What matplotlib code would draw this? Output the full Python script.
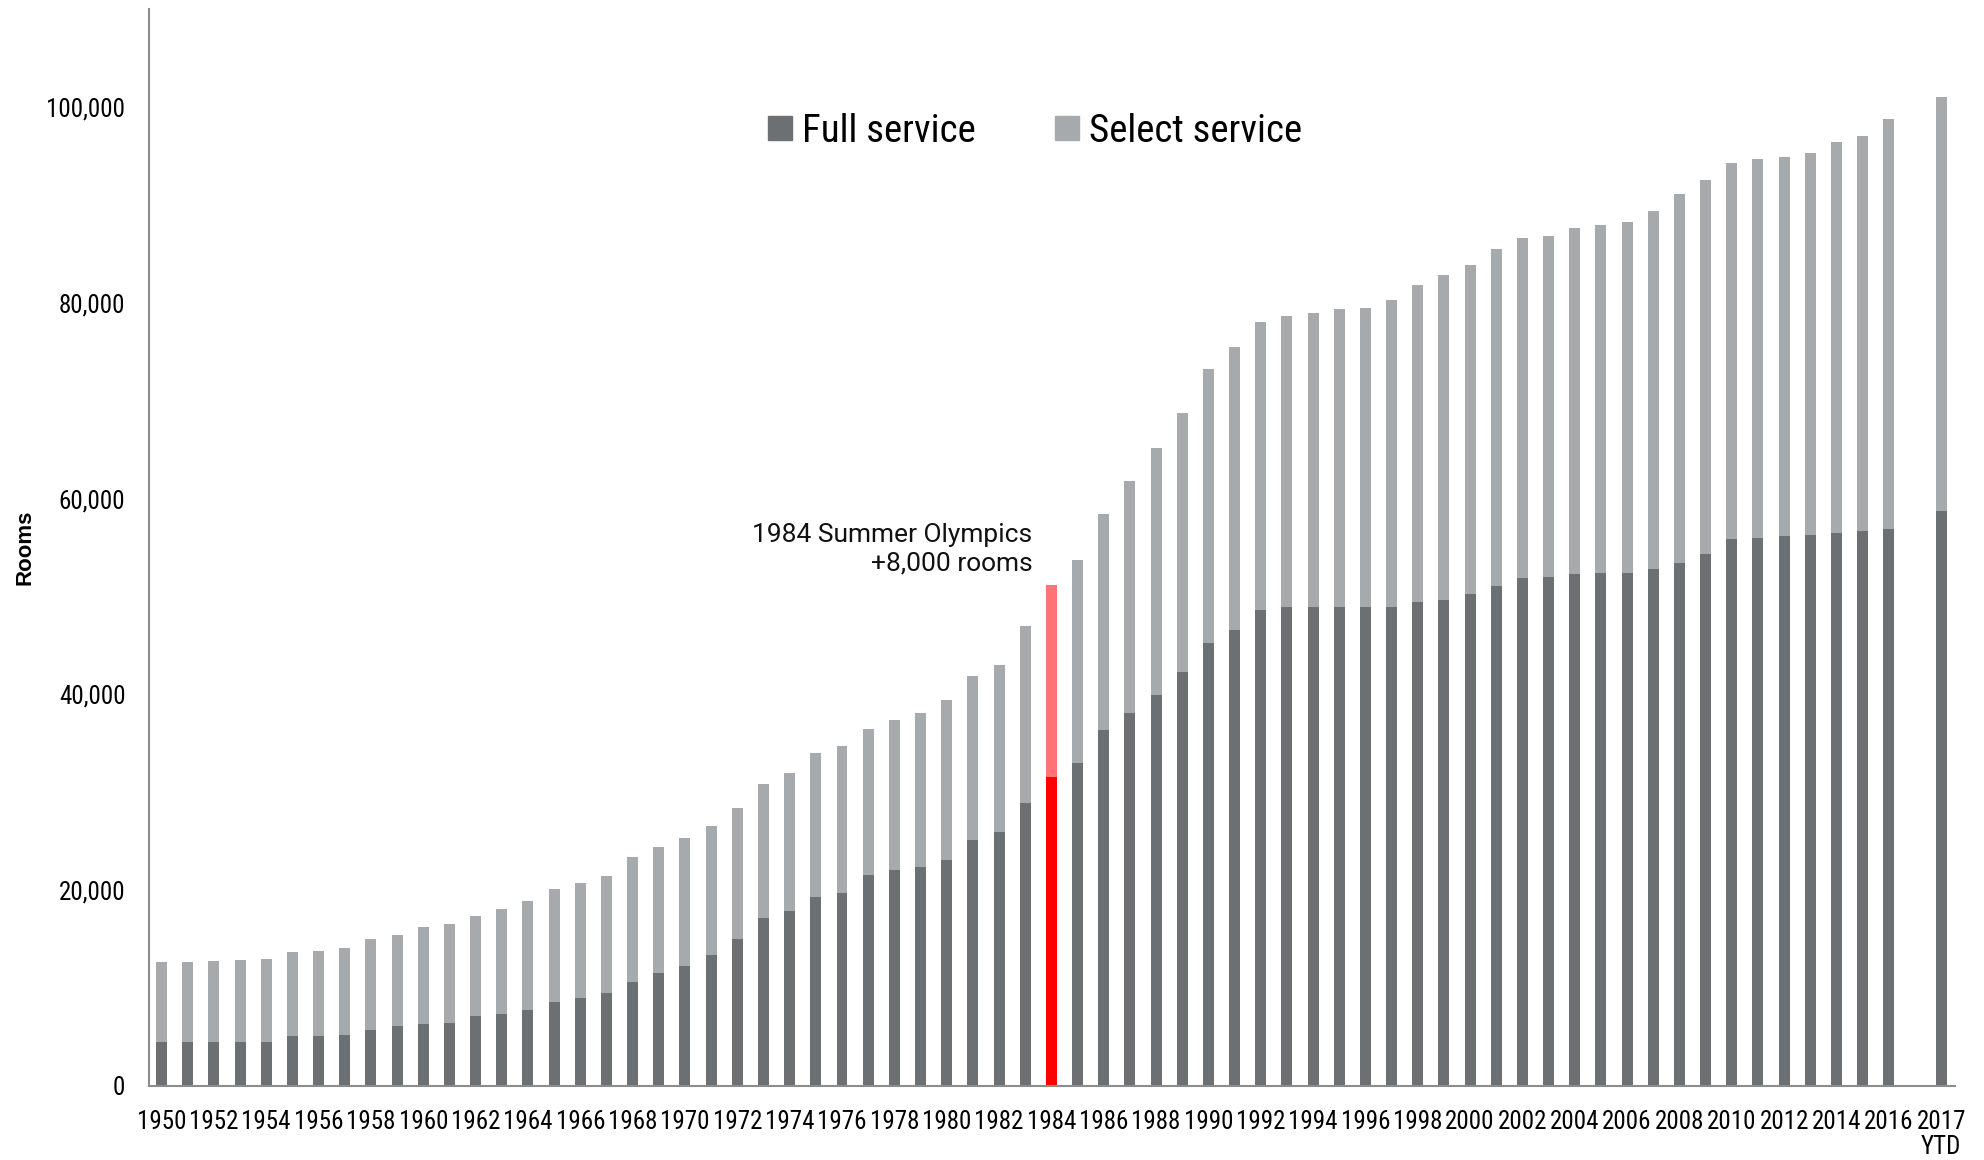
import matplotlib
matplotlib.use("Agg")
import matplotlib.pyplot as plt
from matplotlib import font_manager
from matplotlib.patches import Patch

# rooms by year
YEARS = [str(y) for y in range(1950, 2017)] + ["2017\nYTD"]

FULL_SERVICE = [
  4450, 4450, 4450, 4450, 4450, 5150, 5150, 5200, 5750, 6150,
  6350, 6450, 7150, 7350, 7800, 8600, 9000, 9500, 10650, 11550,
  12300, 13400, 15050, 17150, 17850, 19350, 19700, 21600, 22050, 22400,
  23100, 25150, 25950, 28950, 31600, 32950, 36400, 38150, 39900, 42300,
  45300, 46600, 48650, 48900, 48900, 48900, 48900, 48900, 49400, 49650,
  50250, 51100, 51900, 51950, 52300, 52400, 52400, 52850, 53450, 54300,
  55850, 55950, 56150, 56300, 56500, 56700, 56950, 58750]

SELECT_SERVICE = [
  8250, 8250, 8350, 8450, 8550, 8550, 8650, 8850, 9250, 9300,
  9850, 10150, 10250, 10750, 11150, 11500, 11700, 11950, 12700, 12850,
  13000, 13200, 13400, 13700, 14150, 14650, 15000, 14900, 15350, 15750,
  16300, 16750, 17050, 18050, 19550, 20800, 22050, 23650, 25300, 26500,
  28000, 28900, 29450, 29750, 30050, 30450, 30600, 31350, 32400, 33250,
  33600, 34400, 34750, 34900, 35400, 35550, 35900, 36500, 37650, 38300,
  38450, 38800, 38750, 39000, 39900, 40400, 41850, 42250]

HIGHLIGHT = "1984"

DARK = "#6d7073"
LIGHT = "#a7aaad"
RED = "#ff0000"
LIGHT_RED = "#ff7377"
AXIS = "#8c8c8c"

names = set(f.name for f in font_manager.fontManager.ttflist)
NARROW = ["Liberation Sans", "DejaVu Sans"]
for cand in ["Liberation Sans Narrow", "Roboto Condensed", "Open Sans Condensed"]:
  if cand in names:
    NARROW = [cand, "DejaVu Sans"]
    break
narrow_ok = NARROW[0] != "Liberation Sans"

# one empty slot between 2016 and 2017 YTD
xpos = list(range(len(YEARS) - 1)) + [len(YEARS)]

full_colors = [RED if y == HIGHLIGHT else DARK for y in YEARS]
sel_colors = [LIGHT_RED if y == HIGHLIGHT else LIGHT for y in YEARS]

fig = plt.figure(figsize=(19.84, 11.6), dpi=100)
ax = fig.add_axes([0.0751, 0.0638, 0.9103, 0.9282])

width = 0.42
ax.bar(xpos, FULL_SERVICE, width, color=full_colors, linewidth=0)
ax.bar(xpos, SELECT_SERVICE, width, bottom=FULL_SERVICE, color=sel_colors, linewidth=0)

ax.set_xlim(-0.48, xpos[-1] + 0.53)
ax.set_ylim(0, 110000)

ax.set_yticks([0, 20000, 40000, 60000, 80000, 100000])
ax.set_yticklabels(["0", "20,000", "40,000", "60,000", "80,000", "100,000"],
                   family=NARROW, fontsize=18 if narrow_ok else 16)
idx = list(range(0, len(YEARS) - 1, 2)) + [len(YEARS) - 1]
ax.set_xticks([xpos[i] for i in idx])
ax.set_xticklabels([YEARS[i] for i in idx], family=NARROW,
                   fontsize=18 if narrow_ok else 15, linespacing=1.05)
ax.tick_params(axis="both", length=0)
ax.tick_params(axis="x", pad=17)
ax.tick_params(axis="y", pad=17)

for s in ["top", "right"]:
  ax.spines[s].set_visible(False)
for s in ["left", "bottom"]:
  ax.spines[s].set_color(AXIS)
  ax.spines[s].set_linewidth(1.5)

ax.set_ylabel("Rooms", fontsize=16, fontweight="bold", family=["Liberation Sans", "DejaVu Sans"])
ax.yaxis.set_label_coords(-0.063, 0.5)

i84 = YEARS.index(HIGHLIGHT)
ax.text(xpos[i84] - 0.72, FULL_SERVICE[i84] + SELECT_SERVICE[i84] + 1000,
        "1984 Summer Olympics\n+8,000 rooms", ha="right", va="bottom",
        fontsize=19, family=["Roboto", "DejaVu Sans"], linespacing=1.25, color="#111111")

handles = [Patch(color=DARK, label="Full service"), Patch(color=LIGHT, label="Select service")]
fig.legend(handles=handles, loc="center", bbox_to_anchor=(0.5217, 0.887), ncol=2,
           frameon=False, prop={"family": NARROW, "size": 28 if narrow_ok else 26},
           handlelength=0.6, handleheight=0.6, handletextpad=0.26, columnspacing=2.05)

fig.savefig("out.png", dpi=100)
